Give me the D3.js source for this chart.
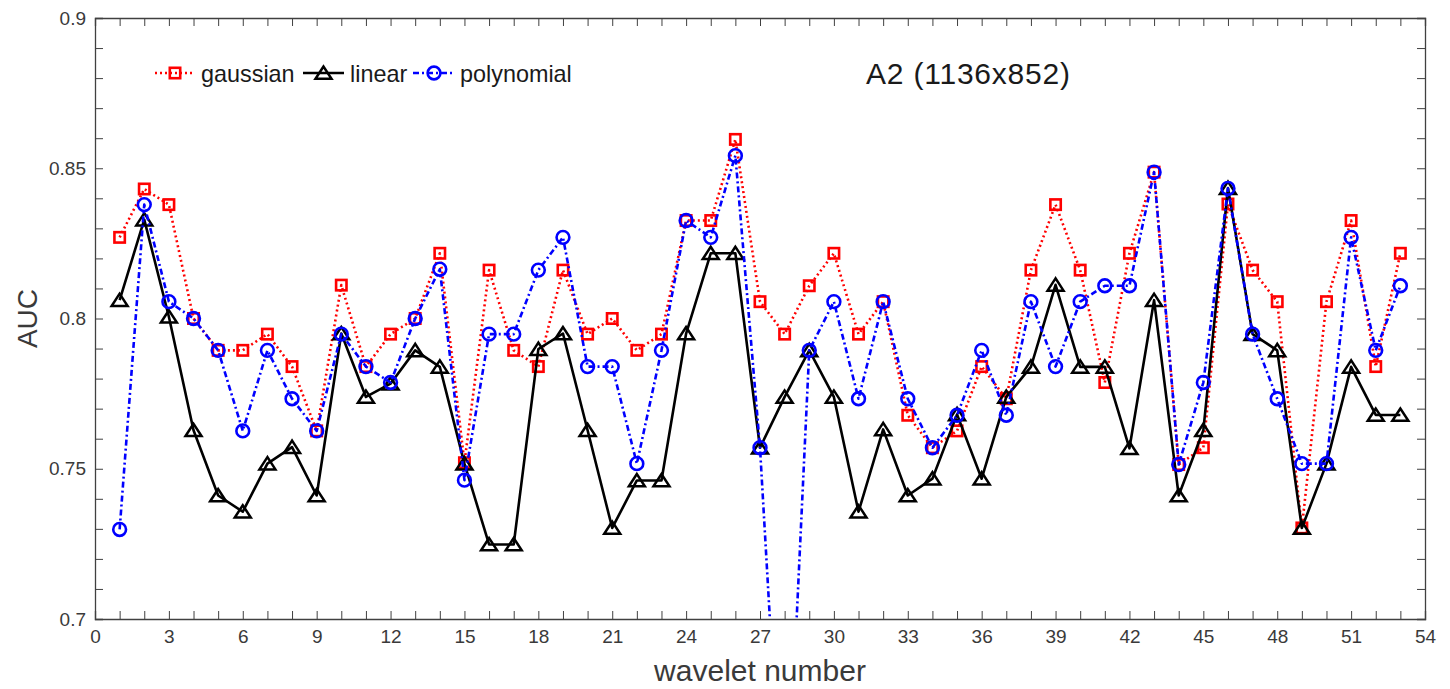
<!DOCTYPE html>
<html>
<head>
<meta charset="utf-8">
<script src="https://cdn.jsdelivr.net/npm/d3@7"></script>
<style>
  html, body { margin: 0; padding: 0; background: #fff; }
  svg { display: block; font-family: "Liberation Sans", Arial, Helvetica, sans-serif; }
</style>
</head>
<body>
<svg id="chart" width="1450" height="689"></svg>
<script>
// ---- data ----
const wavelets = d3.range(1, 54);
const gaussian = [0.827, 0.8431, 0.8379, 0.8, 0.7894, 0.7894, 0.7948, 0.784, 0.7626, 0.8111,
  0.784, 0.7948, 0.8, 0.8217, 0.752, 0.8161, 0.7894, 0.784, 0.8161, 0.7948,
  0.8, 0.7894, 0.7948, 0.8326, 0.8326, 0.8596, 0.8056, 0.7948, 0.8109, 0.8217,
  0.7948, 0.8056, 0.7678, 0.757, 0.7626, 0.784, 0.7733, 0.8161, 0.8379, 0.8161,
  0.7787, 0.8217, 0.8487, 0.7514, 0.757, 0.8381, 0.8161, 0.8056, 0.7303, 0.8056,
  0.8326, 0.784, 0.8217];
const linear = [0.8061, 0.8329, 0.8006, 0.7628, 0.7411, 0.7357, 0.7517, 0.7572, 0.7411, 0.795,
  0.7739, 0.7783, 0.7894, 0.7839, 0.7517, 0.7248, 0.7248, 0.7898, 0.795, 0.7628,
  0.7303, 0.7461, 0.7461, 0.795, 0.8217, 0.8217, 0.757, 0.7739, 0.7894, 0.7739,
  0.7357, 0.7631, 0.7411, 0.7467, 0.7681, 0.7467, 0.7739, 0.7839, 0.8112, 0.7839,
  0.7839, 0.7568, 0.8061, 0.7411, 0.7628, 0.8434, 0.7948, 0.7894, 0.7303, 0.7517,
  0.7839, 0.7679, 0.7679];
const polynomial = [0.7298, 0.8379, 0.8056, 0.8, 0.7894, 0.7626, 0.7894, 0.7733, 0.7626, 0.7948,
  0.784, 0.7787, 0.8, 0.8164, 0.7462, 0.7948, 0.7948, 0.8161, 0.827, 0.784,
  0.784, 0.7517, 0.7894, 0.8326, 0.827, 0.8542, 0.757, 0.615, 0.7894, 0.8056,
  0.7733, 0.8056, 0.7733, 0.757, 0.7678, 0.7894, 0.7678, 0.8056, 0.784, 0.8056,
  0.8109, 0.8109, 0.8487, 0.7514, 0.7787, 0.8433, 0.7948, 0.7733, 0.7517, 0.7517,
  0.827, 0.7894, 0.8109];
const seriesNames = ["gaussian", "linear", "polynomial"];
const xTicks = d3.range(0, 55, 3);
const yTicks = [0.7, 0.75, 0.8, 0.85, 0.9];
const yTickLabels = ["0.7", "0.75", "0.8", "0.85", "0.9"];
const xLabel = "wavelet number";
const yLabel = "AUC";
const titleText = "A2 (1136x852)";

// ---- layout ----
const svg = d3.select("#chart");
const L = 95, R = 1425, T = 18, B = 619;
const x = d3.scaleLinear().domain([0, 54]).range([L, R]);
const y = d3.scaleLinear().domain([0.7, 0.9]).range([B, T]);
const axisColor = "#404040";
const textColor = "#3a3a3a";

const styles = {
  gaussian:   { color: "#ff0000", dash: "2,3", marker: "square" },
  linear:     { color: "#000000", dash: null, marker: "triangle" },
  polynomial: { color: "#0000ff", dash: "6,3,2,3", marker: "circle" }
};
const dataBy = { gaussian, linear, polynomial };

// clip
svg.append("defs").append("clipPath").attr("id", "clip")
  .append("rect").attr("x", L).attr("y", T).attr("width", R - L).attr("height", B - T);

// axes box ticks
const tickLen = 8;
const gAx = svg.append("g");
const xMinor = d3.range(0, 55, 1);
const yMinor = d3.range(70, 91, 1).map(d => d / 100);

const bottomAxis = d3.axisBottom(x).tickValues(xMinor).tickSize(-tickLen).tickFormat("");
const topAxis = d3.axisTop(x).tickValues(xMinor).tickSize(-tickLen).tickFormat("");
const leftAxis = d3.axisLeft(y).tickValues(yMinor).tickSize(-tickLen).tickFormat("");
const rightAxis = d3.axisRight(y).tickValues(yMinor).tickSize(-tickLen).tickFormat("");
[[bottomAxis, `translate(0,${B})`], [topAxis, `translate(0,${T})`],
 [leftAxis, `translate(${L},0)`], [rightAxis, `translate(${R},0)`]].forEach(([ax, tr]) => {
  const g = gAx.append("g").attr("transform", tr).call(ax);
  g.selectAll("path.domain").attr("stroke", axisColor).attr("stroke-width", 1.3);
  g.selectAll(".tick line").attr("stroke", axisColor).attr("stroke-width", 1);
});

// tick labels
const xl = d3.axisBottom(x).tickValues(xTicks).tickSize(0).tickPadding(11).tickFormat(d3.format("d"));
const gxl = svg.append("g").attr("transform", `translate(0,${B})`).call(xl);
gxl.select("path.domain").remove();
gxl.selectAll("text").attr("fill", textColor).attr("font-size", 19).attr("font-family", "Liberation Sans, Arial");

const yl = d3.axisLeft(y).tickValues(yTicks).tickSize(0).tickPadding(9)
  .tickFormat((d, i) => yTickLabels[i]);
const gyl = svg.append("g").attr("transform", `translate(${L},0)`).call(yl);
gyl.select("path.domain").remove();
gyl.selectAll("text").attr("fill", textColor).attr("font-size", 19).attr("font-family", "Liberation Sans, Arial");

// axis labels
svg.append("text").attr("x", (L + R) / 2).attr("y", 681).attr("text-anchor", "middle")
  .attr("font-size", 30).attr("fill", textColor).text(xLabel);
svg.append("text").attr("transform", `translate(37,${(T + B) / 2}) rotate(-90)`)
  .attr("text-anchor", "middle").attr("font-size", 28).attr("fill", textColor).text(yLabel);

// markers
function drawMarker(g, type, cx, cy, color) {
  if (type === "square") {
    g.append("rect").attr("x", cx - 5.2).attr("y", cy - 5.2).attr("width", 10.4).attr("height", 10.4)
      .attr("fill", "none").attr("stroke", color).attr("stroke-width", 2.6);
  } else if (type === "triangle") {
    g.append("path").attr("d", `M${cx},${cy - 6.5} L${cx - 8},${cy + 5.8} L${cx + 8},${cy + 5.8} Z`)
      .attr("fill", "none").attr("stroke", color).attr("stroke-width", 2.5).attr("stroke-linejoin", "miter");
  } else {
    g.append("circle").attr("cx", cx).attr("cy", cy).attr("r", 6.4)
      .attr("fill", "none").attr("stroke", color).attr("stroke-width", 2.6);
  }
}

const plot = svg.append("g").attr("clip-path", "url(#clip)");
const line = d3.line().x((d, i) => x(wavelets[i])).y(d => y(d));
seriesNames.forEach(name => {
  const st = styles[name];
  const vals = dataBy[name];
  const g = plot.append("g");
  g.append("path").attr("d", line(vals)).attr("fill", "none").attr("stroke", st.color)
    .attr("stroke-width", 2.6).attr("stroke-dasharray", st.dash).attr("stroke-linejoin", "round");
  vals.forEach((v, i) => {
    if (v >= 0.7 && v <= 0.9) drawMarker(g, st.marker, x(wavelets[i]), y(v), st.color);
  });
});

// legend
const legendItems = [
  { name: "gaussian", x0: 155, x1: 195, tx: 201 },
  { name: "linear", x0: 303, x1: 344, tx: 350 },
  { name: "polynomial", x0: 413, x1: 455, tx: 460 }
];
const ly = 73;
const lg = svg.append("g");
legendItems.forEach(it => {
  const st = styles[it.name];
  lg.append("line").attr("x1", it.x0).attr("x2", it.x1).attr("y1", ly).attr("y2", ly)
    .attr("stroke", st.color).attr("stroke-width", 2.6).attr("stroke-dasharray", st.dash);
  drawMarker(lg, st.marker, (it.x0 + it.x1) / 2, ly, st.color);
  lg.append("text").attr("x", it.tx).attr("y", ly + 8.5).attr("font-size", 23.4)
    .attr("fill", "#1a1a1a").text(it.name);
});

// annotation title
svg.append("text").attr("x", 866).attr("y", 84).attr("font-size", 30)
  .attr("textLength", 204).attr("lengthAdjust", "spacing")
  .attr("fill", "#1a1a1a").text(titleText);
</script>
</body>
</html>
